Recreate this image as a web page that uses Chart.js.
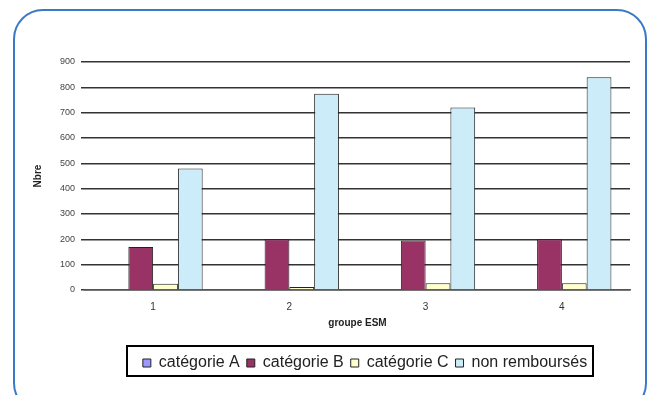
<!DOCTYPE html>
<html>
<head>
<meta charset="utf-8">
<script src="https://cdn.jsdelivr.net/npm/chart.js@4/dist/chart.umd.min.js"></script>
<style>
  html, body { margin: 0; padding: 0; background: #fff; }
  #wrap { position: relative; width: 653px; height: 395px; overflow: hidden; }
  #c { position: absolute; left: 0; top: 0; }
  #frame { position: absolute; left: 13px; top: 9px; width: 630px; height: 400px;
           border: 2.5px solid #3a78c8; border-radius: 30px; pointer-events: none; }
</style>
</head>
<body>
<div id="wrap">
  <canvas id="c" width="653" height="395"></canvas>
  <div id="frame"></div>
</div>
<script>
const categories = ['1', '2', '3', '4'];
const seriesNames = ['catégorie A', 'catégorie B', 'catégorie C', 'non remboursés'];
const categorieA = [0, 0, 0, 0];
const categorieB = [170, 200, 195, 200];
const categorieC = [25, 12, 27, 27];
const nonRembourses = [480, 775, 720, 840];
const yTicks = [0, 100, 200, 300, 400, 500, 600, 700, 800, 900];
const colors = ['#9999FF', '#993366', '#FFFFCC', '#CCECFA'];

const values = [categorieA, categorieB, categorieC, nonRembourses];

const legendBox = {
  id: 'legendBox',
  afterLayout(chart) {
    const l = chart.legend;
    if (!l) return;
    l.left += 36; l.right += 36;
    l.top += 5; l.bottom += 5;
  },
  afterDraw(chart) {
    const ctx = chart.ctx;
    ctx.save();
    ctx.strokeStyle = '#000';
    ctx.lineWidth = 2;
    ctx.strokeRect(127, 346, 466, 30);
    ctx.restore();
  }
};

new Chart(document.getElementById('c'), {
  type: 'bar',
  data: {
    labels: categories,
    datasets: seriesNames.map((n, i) => ({
      label: n,
      data: values[i],
      backgroundColor: colors[i],
      borderColor: '#222',
      borderWidth: 1,
      categoryPercentage: 4 / 5.5,
      barPercentage: 1
    }))
  },
  options: {
    responsive: false,
    animation: false,
    layout: { padding: { left: 28, right: 23, top: 62, bottom: 19 } },
    plugins: {
      tooltip: { enabled: false },
      legend: {
        position: 'bottom',
        labels: {
          color: '#222',
          font: { family: 'Liberation Sans', size: 16 },
          boxWidth: 8,
          boxHeight: 8,
          padding: 7
        }
      }
    },
    scales: {
      x: {
        grid: { display: false },
        border: { color: '#555', width: 1.5 },
        ticks: { color: '#333', font: { family: 'Liberation Sans', size: 10 }, padding: 3 },
        title: { display: true, text: 'groupe ESM', color: '#222',
                 font: { family: 'Liberation Sans', size: 10, weight: 'bold' }, padding: { top: 1, bottom: 14 } }
      },
      y: {
        min: 0, max: 900,
        afterBuildTicks(s) { s.ticks = yTicks.map(v => ({ value: v })); },
        afterFit(s) { s.width = 57; },
        grid: { color: '#333', lineWidth: 1.5, drawTicks: true, tickLength: 4 },
        border: { display: false },
        ticks: { color: '#444', font: { family: 'Liberation Sans', size: 9 }, padding: 6 },
        title: { display: true, text: 'Nbre', color: '#222',
                 font: { family: 'Liberation Sans', size: 10, weight: 'bold' }, padding: 4 }
      }
    }
  },
  plugins: [legendBox]
});
</script>
</body>
</html>
